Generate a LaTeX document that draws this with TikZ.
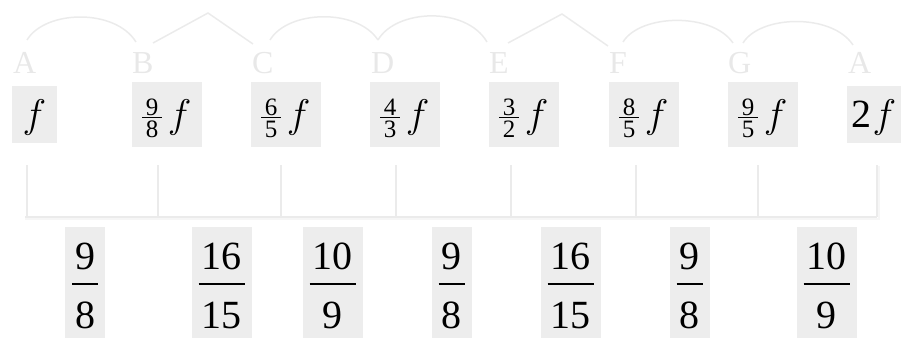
\RequirePackage{fix-cm}
\documentclass[tikz,border=0pt]{standalone}
\usepackage{fontspec}
\setmainfont{Liberation Serif}
\definecolor{boxgray}{HTML}{EDEDED}
\definecolor{letgray}{HTML}{E8E8E8}
\definecolor{linegray}{HTML}{EBEBEB}
\definecolor{shadowgray}{HTML}{F6F6F6}
% big fraction for the bottom row
\newcommand\bigfr[2]{\begingroup\arrayrulewidth=1.8pt\renewcommand\arraystretch{0}%
\begin{tabular}[b]{@{\hspace{3pt}}c@{\hspace{3pt}}}\rule[-14pt]{0pt}{56pt}#1\\\hline\rule[-10pt]{0pt}{53pt}#2\end{tabular}\endgroup}
% small fraction for the top row
\newcommand\smfr[2]{\raisebox{-10pt}{\fontsize{25}{30}\selectfont\arrayrulewidth=1.2pt\renewcommand\arraystretch{0}%
\begin{tabular}[b]{@{\hspace{3.5pt}}c@{\hspace{3.5pt}}}\rule[-1.5pt]{0pt}{19pt}#1\\\hline\rule{0pt}{19pt}#2\end{tabular}}}
\newcommand\ff{$f$}
\begin{document}
\begin{tikzpicture}[x=1pt,y=-1pt,
  lett/.style={text=letgray, font=\fontsize{32}{36}\selectfont, inner sep=0pt, anchor=base west},
  topbox/.style={fill=boxgray, inner sep=0pt, font=\fontsize{40}{48}\selectfont, anchor=base,
                 text height=45pt, text depth=20pt, minimum width=70pt},
  endbox/.style={topbox, text height=41pt, text depth=16pt},
  botbox/.style={fill=boxgray, inner xsep=7pt, inner ysep=0pt, font=\fontsize{40}{48}\selectfont, anchor=base},
  arcline/.style={draw=linegray, line width=1.5pt},
  bracket/.style={draw=linegray, line width=2pt},
  shadow/.style={draw=shadowgray, line width=1.5pt}]
\useasboundingbox (0,0) rectangle (911,338);

% note letters
\node[lett] (LA)  at (13,73)  {A};
\node[lett] (LB)  at (132,73) {B};
\node[lett] (LC)  at (252,73) {C};
\node[lett] (LD)  at (371,73) {D};
\node[lett] (LE)  at (489,73) {E};
\node[lett] (LF)  at (609,73) {F};
\node[lett] (LG)  at (728,73) {G};
\node[lett] (LA2) at (848,73) {A};

% arc end points
\coordinate (a1) at (27,40);  \coordinate (a2) at (136,42);
\coordinate (b1) at (153,43); \coordinate (bp) at (208,13); \coordinate (b2) at (253,44);
\coordinate (c1) at (270,40); \coordinate (c2) at (378,40);
\coordinate (d1) at (378,40); \coordinate (d2) at (487,42);
\coordinate (e1) at (508,43); \coordinate (ep) at (562,14); \coordinate (e2) at (608,46);
\coordinate (f1) at (623,42); \coordinate (f2) at (733,43);
\coordinate (g1) at (743,43); \coordinate (g2) at (853,45);

\draw[arcline] (a1) .. controls (45,10) and (115,8) .. (a2);
\draw[arcline] (b1) -- (bp) -- (b2);
\draw[arcline] (c1) .. controls (288,10) and (357,8) .. (c2);
\draw[arcline] (d1) .. controls (396,9) and (466,6) .. (d2);
\draw[arcline] (e1) -- (ep) -- (e2);
\draw[arcline] (f1) .. controls (640,14) and (712,12) .. (f2);
\draw[arcline] (g1) .. controls (760,15) and (832,13) .. (g2);

% frequency boxes
\node[endbox, minimum width=45pt] (t1) at (34.5,127) {\ff};
\node[topbox] (t2) at (167,127) {\smfr{9}{8}\hspace{6pt}\ff};
\node[topbox] (t3) at (286,127) {\smfr{6}{5}\hspace{6pt}\ff};
\node[topbox] (t4) at (405,127) {\smfr{4}{3}\hspace{6pt}\ff};
\node[topbox] (t5) at (524,127) {\smfr{3}{2}\hspace{6pt}\ff};
\node[topbox] (t6) at (644,127) {\smfr{8}{5}\hspace{6pt}\ff};
\node[topbox] (t7) at (763,127) {\smfr{9}{5}\hspace{6pt}\ff};
\node[endbox, minimum width=54pt] (t8) at (874,127) {2\hspace{1pt}\ff};

% bracket
\foreach \x [count=\i] in {27,158,281,395.5,511,636,758,877}{
  \coordinate (k\i) at (\x,165);
  \coordinate (h\i) at (\x,217);
}
\draw[shadow] (25,218.8) -- (878.8,218.8) -- (878.8,166);
\draw[bracket] (25,217) -- (h8);
\foreach \i in {1,...,8}{ \draw[bracket] (k\i) -- (h\i); }

% interval ratios
\node[botbox] (r1) at (85,328)    {\bigfr{9}{8}};
\node[botbox] (r2) at (221.5,328) {\bigfr{16}{15}};
\node[botbox] (r3) at (332.5,328) {\bigfr{10}{9}};
\node[botbox] (r4) at (451.5,328) {\bigfr{9}{8}};
\node[botbox] (r5) at (570.5,328) {\bigfr{16}{15}};
\node[botbox] (r6) at (689.5,328) {\bigfr{9}{8}};
\node[botbox] (r7) at (826.5,328) {\bigfr{10}{9}};
\end{tikzpicture}
\end{document}
